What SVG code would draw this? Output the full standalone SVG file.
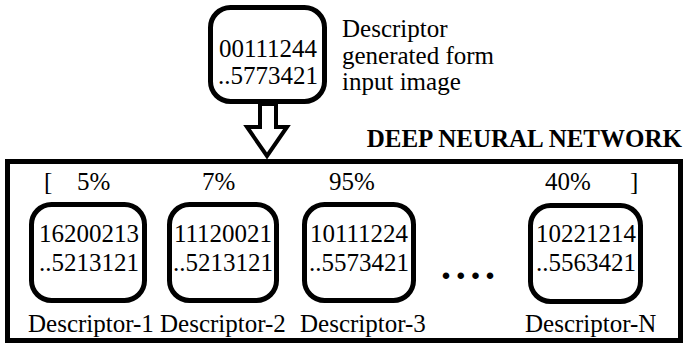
<svg xmlns="http://www.w3.org/2000/svg" width="686" height="345" viewBox="0 0 686 345" font-family="'Liberation Serif','Times New Roman','DejaVu Serif',serif">
<style>
text{font-family:'Liberation Serif','Times New Roman','DejaVu Serif',serif;font-size:25px;fill:#000}
.num{font-size:25px;text-anchor:middle}
.box{fill:#fff;stroke:#000;stroke-width:5}
.title{font-weight:bold;text-anchor:end}
</style>
<rect width="686" height="345" fill="#fff"/>
<g id="dnn">
<rect x="7.5" y="161.5" width="673" height="179" fill="none" stroke="#000" stroke-width="5"/>
<text class="title" x="682" y="147">DEEP NEURAL NETWORK</text>
<text x="44" y="190">[</text>
<text x="77" y="190">5%</text>
<text x="202" y="190">7%</text>
<text x="329" y="190">95%</text>
<text x="545" y="190">40%</text>
<text x="630" y="190">]</text>
<text x="441" y="279" style="font-size:40px;font-weight:bold;letter-spacing:4.7px">....</text>
</g>
<g id="input">
<rect class="box" x="210.5" y="7.5" width="114" height="94" rx="20"/>
<text class="num" x="268" y="57">00111244</text>
<text class="num" x="268" y="84">..5773421</text>
<text x="342" y="37">Descriptor</text>
<text x="342" y="64">generated form</text>
<text x="342" y="90">input image</text>
</g>
<g id="d1">
<rect class="box" x="31.5" y="204.5" width="113" height="96" rx="20"/>
<text class="num" x="89" y="242">16200213</text>
<text class="num" x="89" y="271">..5213121</text>
<text x="28" y="332">Descriptor-1</text>
</g>
<g id="d2">
<rect class="box" x="169.5" y="204.5" width="107" height="96" rx="20"/>
<text class="num" x="223" y="242">11120021</text>
<text class="num" x="223" y="271">..5213121</text>
<text x="160" y="332">Descriptor-2</text>
</g>
<g id="d3">
<rect class="box" x="304.5" y="204.5" width="109" height="96" rx="20"/>
<text class="num" x="359" y="242">10111224</text>
<text class="num" x="359" y="271">..5573421</text>
<text x="300" y="332">Descriptor-3</text>
</g>
<g id="dN">
<rect class="box" x="530.5" y="205.5" width="110" height="96" rx="20"/>
<text class="num" x="586" y="242">10221214</text>
<text class="num" x="586" y="271">..5563421</text>
<text x="525" y="332">Descriptor-N</text>
</g>
<g id="connectors">
<polygon points="260,104 276,104 276,127 287,127 267,156 247,127 260,127" fill="#fff" stroke="#000" stroke-width="4" stroke-linejoin="miter"/>
</g>
</svg>
